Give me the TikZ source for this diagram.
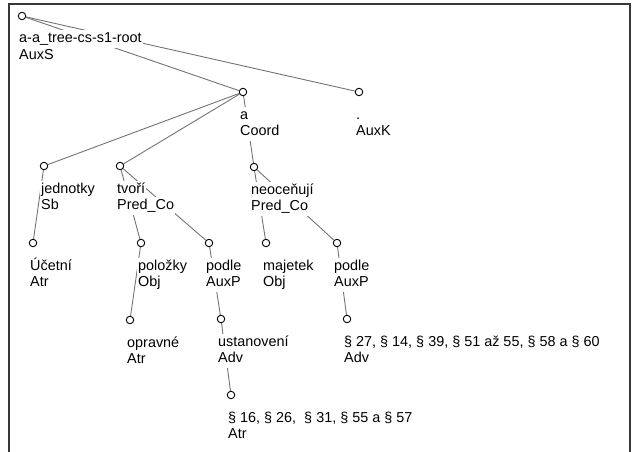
\documentclass[tikz,border=0pt]{standalone}
\usepackage{fontspec}
\setmainfont{Liberation Sans}
\usetikzlibrary{backgrounds}
% one tree node: word and function labels under a small circle
\newcommand\treeitem[5]{%
  \node[lbl] (#1-w) at (#2-4,#3+27) {#4};
  \node[lbl] (#1-f) at (#2-4,#3+43.5) {#5};
  \node[treenode] (#1) at (#2,#3) {};}
\begin{document}
\begin{tikzpicture}[x=1pt,y=-1pt,
  treenode/.style={circle,draw=black,fill=white,line width=0.9pt,minimum size=7.5pt,inner sep=0pt},
  edge/.style={draw=black!55,line width=0.9pt},
  lbl/.style={anchor=base west,fill=white,inner xsep=1pt,inner ysep=1.5pt,
    text height=11pt,text depth=3.5pt,font=\fontsize{14.4}{17}\selectfont},
  frameline/.style={draw=black!78,line width=1.6pt}]
\useasboundingbox (0,0) rectangle (634,452);
% open frame around the tree
\draw[frameline] (9,452) -- (9,3.8) -- (630,3.8) -- (630,452);

\treeitem{root}{22}{16}{a-a\_tree-cs-s1-root}{AuxS}
\treeitem{coord}{243}{92}{a}{Coord}
\treeitem{auxk}{359}{92}{.}{AuxK}
\treeitem{jednotky}{44}{166}{jednotky}{Sb}
\treeitem{tvori}{120}{166}{tvoří}{Pred\_Co}
\treeitem{neoc}{254}{167}{neoceňují}{Pred\_Co}
\treeitem{ucetni}{33}{243}{Účetní}{Atr}
\treeitem{polozky}{141}{243}{položky}{Obj}
\treeitem{podleA}{209}{243}{podle}{AuxP}
\treeitem{majetek}{266}{243}{majetek}{Obj}
\treeitem{podleB}{337}{243}{podle}{AuxP}
\treeitem{opravne}{130}{320}{opravné}{Atr}
\treeitem{ustan}{221}{319}{ustanovení}{Adv}
\treeitem{parB}{347}{319}{§ 27, § 14, § 39, § 51 až 55, § 58 a § 60}{Adv}
\treeitem{parA}{231}{395}{§ 16, § 26,\ \ § 31, § 55 a § 57}{Atr}

\begin{scope}[on background layer]
  \draw[edge] (root) -- (coord);
  \draw[edge] (root) -- (auxk);
  \draw[edge] (coord) -- (jednotky);
  \draw[edge] (coord) -- (tvori);
  \draw[edge] (coord) -- (neoc);
  \draw[edge] (jednotky) -- (ucetni);
  \draw[edge] (tvori) -- (polozky);
  \draw[edge] (tvori) -- (podleA);
  \draw[edge] (polozky) -- (opravne);
  \draw[edge] (podleA) -- (ustan);
  \draw[edge] (ustan) -- (parA);
  \draw[edge] (neoc) -- (majetek);
  \draw[edge] (neoc) -- (podleB);
  \draw[edge] (podleB) -- (parB);
\end{scope}
\end{tikzpicture}
\end{document}
